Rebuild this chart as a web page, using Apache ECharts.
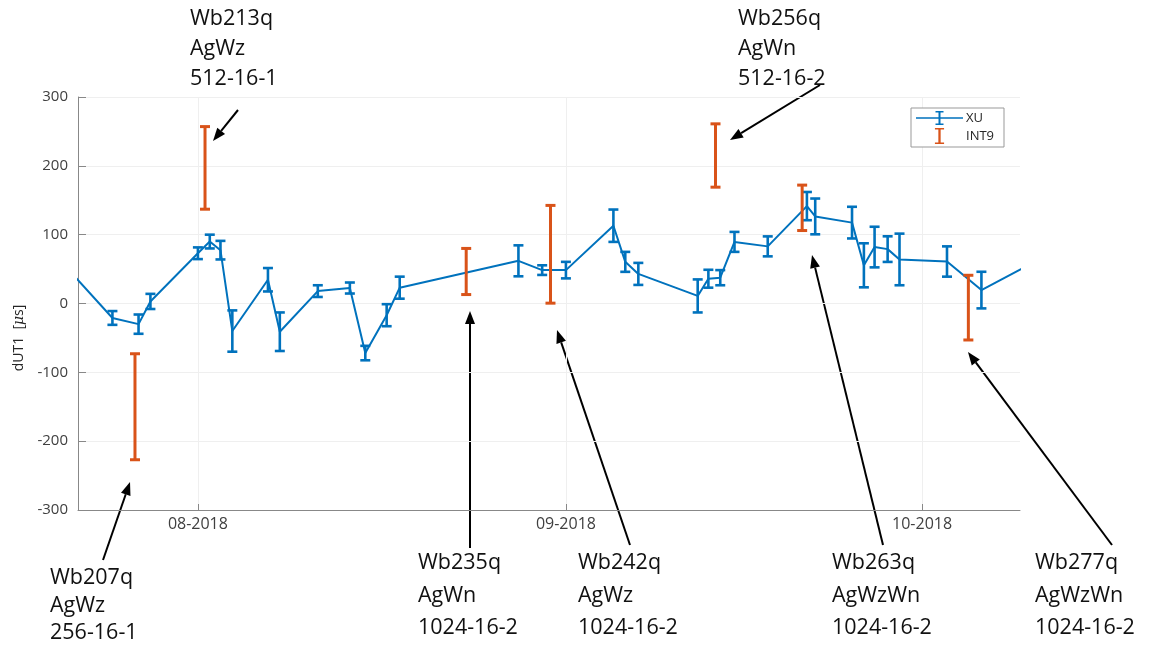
<!DOCTYPE html>
<html><head><meta charset="utf-8">
<script src="https://cdn.jsdelivr.net/npm/echarts@6/dist/echarts.min.js"></script>
<style>html,body{margin:0;padding:0;background:#fff}#c{width:1170px;height:646px}</style>
</head><body><div id="c"></div>
<script>
// days relative to 2018-08-01
const xuDays = [-11, -7.2, -5.0, -4.0, 0.0, 1.0, 1.9, 2.9, 5.9, 6.9, 10.1, 12.8, 14.1, 15.9, 17.0, 27.0, 29.0, 31.0, 35.0, 36.0, 37.1, 42.1, 43.0, 44.0, 45.2, 48.0, 51.3, 52.0, 55.1, 56.1, 57.0, 58.1, 59.1, 63.1, 66.0, 70];
const xuVal  = [51, -21, -30, 3, 73, 90, 77.5, -40, 34.5, -41, 18, 22.5, -72, -17, 23, 62, 48.5, 48.5, 113, 60.5, 43, 11, 36, 37.5, 89.5, 83, 141.5, 126.5, 117.5, 55.5, 82, 79, 64, 61, 19.5, 56];
const xuErr  = [null, 10, 14, 11, 8.5, 10, 13.5, 30, 17, 28, 8.5, 8, 10.5, 16, 16, 22.5, 7, 12, 23.5, 14.5, 16, 24, 13, 11, 14.5, 14.5, 20.5, 26, 23, 32, 29.5, 18.6, 37.5, 22, 26.6, null];

const int9Days = [-5.3, 0.6, 22.6, 29.7, 43.6, 50.9, 64.9];
const int9Val  = [-150, 197, 46.5, 71.5, 215, 139, -6];
const int9Err  = [77, 60, 33.5, 71, 46, 33, 47];

const tickDays   = [0, 31, 61];
const tickLabels = ['08-2018', '09-2018', '10-2018'];
const yTicks = [-300, -200, -100, 0, 100, 200, 300];

const annoTexts = [
  ['Wb207q', 'AgWz', '256-16-1'],
  ['Wb213q', 'AgWz', '512-16-1'],
  ['Wb235q', 'AgWn', '1024-16-2'],
  ['Wb242q', 'AgWz', '1024-16-2'],
  ['Wb256q', 'AgWn', '512-16-2'],
  ['Wb263q', 'AgWzWn', '1024-16-2'],
  ['Wb277q', 'AgWzWn', '1024-16-2']
];
// layout of annotation blocks (left x, line centre ys) and arrows (tail -> head), in pixels
const annoLayout = [
  {x: 50,  ys: [578, 606, 633], arrow: [103, 560, 130, 482]},
  {x: 190, ys: [19, 49, 79],    arrow: [238, 110, 213, 141]},
  {x: 418, ys: [563, 596, 628], arrow: [470, 548, 470, 311]},
  {x: 578, ys: [563, 596, 628], arrow: [630, 545, 557, 330]},
  {x: 738, ys: [19, 49, 79],    arrow: [820, 85, 730, 140]},
  {x: 832, ys: [563, 596, 628], arrow: [883, 545, 812, 255]},
  {x: 1035, ys: [563, 596, 628], arrow: [1112, 545, 968, 352]}
];

const BLUE = '#0072BD', ORANGE = '#D95319';
const FONT = 'Open Sans';

function errRender(color, cap, lw) {
  return function (params, api) {
    const x = api.value(0), y = api.value(1), e = api.value(2);
    const t = api.coord([x, y + e]), b = api.coord([x, y - e]);
    const h = cap / 2;
    const st = {stroke: color, lineWidth: lw};
    return {type: 'group', children: [
      {type: 'line', shape: {x1: t[0], y1: t[1], x2: b[0], y2: b[1]}, style: st},
      {type: 'line', shape: {x1: t[0] - h, y1: t[1], x2: t[0] + h, y2: t[1]}, style: st},
      {type: 'line', shape: {x1: b[0] - h, y1: b[1], x2: b[0] + h, y2: b[1]}, style: st}
    ]};
  };
}

const graphics = [];
annoTexts.forEach((lines, i) => {
  const L = annoLayout[i];
  lines.forEach((s, j) => {
    graphics.push({type: 'text', x: L.x, y: L.ys[j], style: {text: s, fill: '#111', font: '21.5px "' + FONT + '"', textAlign: 'left', textVerticalAlign: 'middle'}});
  });
  const [x1, y1, x2, y2] = L.arrow;
  const dx = x2 - x1, dy = y2 - y1, len = Math.hypot(dx, dy);
  const ux = dx / len, uy = dy / len, al = 13, aw = 5;
  const bx = x2 - ux * al, by = y2 - uy * al;
  graphics.push({type: 'line', shape: {x1, y1, x2: bx, y2: by}, style: {stroke: '#000', lineWidth: 2}});
  graphics.push({type: 'polygon', shape: {points: [[x2, y2], [bx - uy * aw, by + ux * aw], [bx + uy * aw, by - ux * aw]]}, style: {fill: '#000'}});
});
graphics.push({type: 'text', x: 19, y: 338, rotation: Math.PI / 2,
  style: {text: 'dUT1  [{i|μ}s]', rich: {i: {fontStyle: 'italic', fontSize: 14, fontFamily: 'DejaVu Serif'}}, fill: '#262626', font: '14px "' + FONT + '"', textAlign: 'center', textVerticalAlign: 'middle'}});

const chart = echarts.init(document.getElementById('c'));
chart.setOption({
  animation: false,
  color: [BLUE, ORANGE],
  grid: {left: 78, right: 150, top: 97, bottom: 136},
  xAxis: {
    type: 'value', min: -10.1, max: 69.25,
    axisLine: {onZero: false, lineStyle: {color: '#888', width: 1}},
    axisTick: {customValues: tickDays, inside: true, length: 6, lineStyle: {color: '#888'}},
    axisLabel: {customValues: tickDays, formatter: v => tickLabels[tickDays.indexOf(v)], color: '#404040', fontSize: 16, fontFamily: FONT, margin: 6},
    splitLine: {show: true, lineStyle: {color: '#efefef'}}
  },
  yAxis: {
    type: 'value', min: yTicks[0], max: yTicks[yTicks.length - 1], interval: 100,
    axisLine: {show: true, onZero: false, lineStyle: {color: '#888', width: 1}},
    axisTick: {show: true, inside: true, length: 8, lineStyle: {color: '#888'}},
    axisLabel: {color: '#404040', fontSize: 15, fontFamily: FONT, margin: 10},
    splitLine: {show: true, lineStyle: {color: '#efefef'}}
  },
  legend: {
    left: 911, top: 108, orient: 'vertical',
    padding: [3, 10, 3, 5], itemGap: 3, itemWidth: 47, itemHeight: 16,
    borderColor: '#999', borderWidth: 1, backgroundColor: '#fff', borderRadius: 0,
    textStyle: {fontSize: 13, color: '#262626', fontFamily: FONT, padding: [0, 0, 0, -2]},
    data: [
      {name: 'XU', icon: 'path://M0,7.3H47V8.7H0Z M22.5,1H24.5V15H22.5Z M19.5,1H27.5V2.4H19.5Z M19.5,13.6H27.5V15H19.5Z'},
      {name: 'INT9', icon: 'path://M1,1H3V15H1Z M-2,1H6V2.4H-2Z M-2,13.6H6V15H-2Z'}
    ]
  },
  graphic: graphics,
  series: [
    {name: 'XU', type: 'line', data: xuDays.map((d, i) => [d, xuVal[i]]), showSymbol: false, symbol: 'none',
      lineStyle: {color: BLUE, width: 2}, itemStyle: {color: BLUE}, clip: true, z: 2},
    {name: 'XU err', type: 'custom', renderItem: errRender(BLUE, 10, 2.6), clip: true, z: 3,
      itemStyle: {color: BLUE},
      data: xuDays.map((d, i) => [d, xuVal[i], xuErr[i]]).filter(r => r[2] !== null)},
    {name: 'INT9', type: 'custom', renderItem: errRender(ORANGE, 10, 3), clip: true, z: 4,
      itemStyle: {color: ORANGE},
      data: int9Days.map((d, i) => [d, int9Val[i], int9Err[i]])}
  ]
});
</script></body></html>
